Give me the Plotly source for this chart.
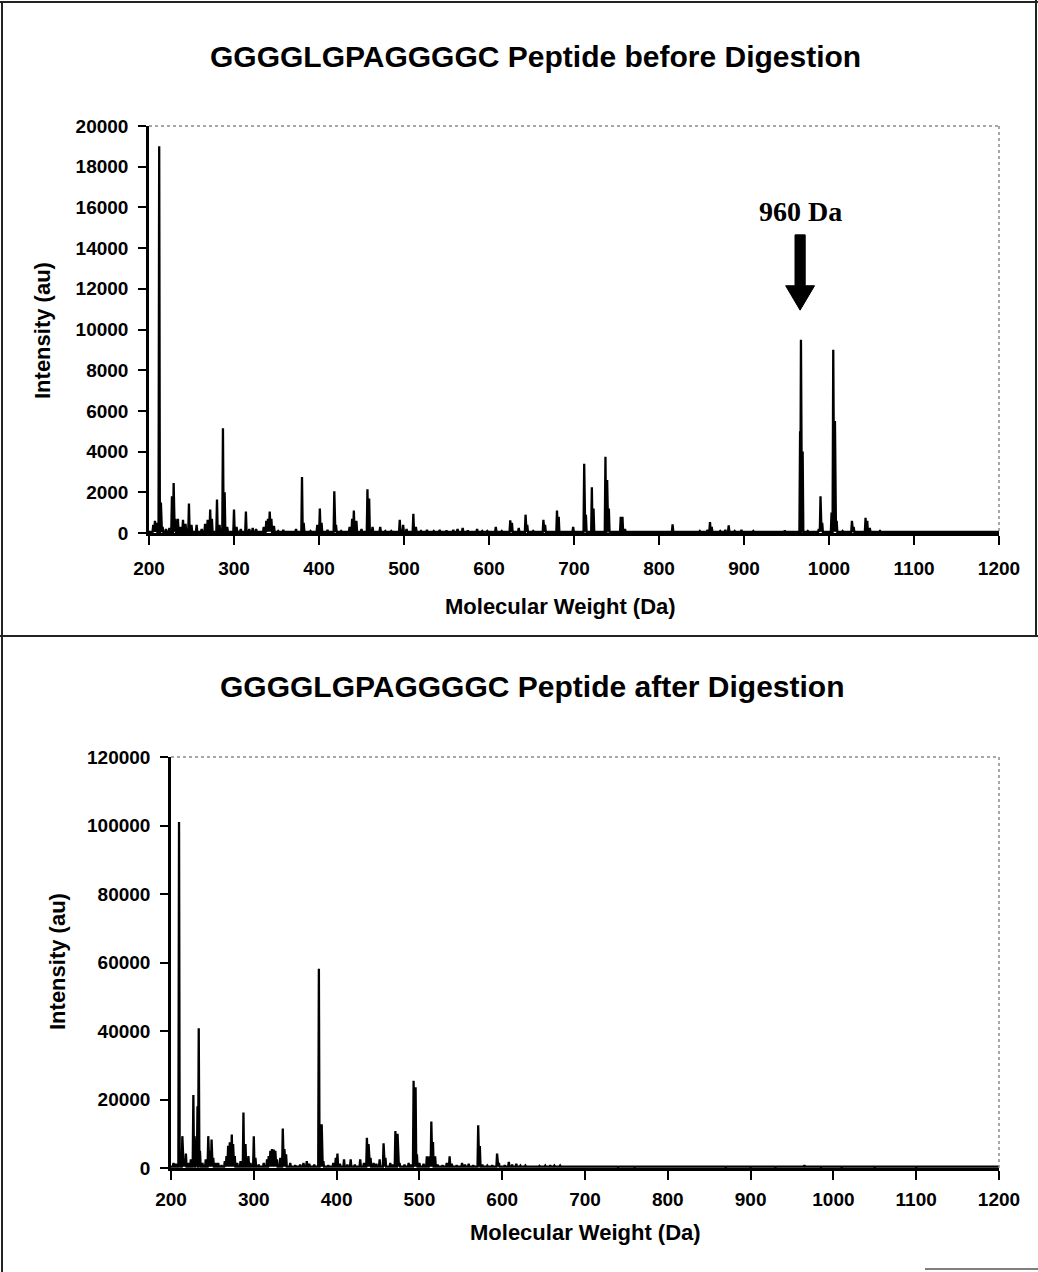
import plotly.graph_objects as go

W, H = 1038, 1272

# ---- spectrum before digestion: peak centres (Da) and intensities (au) ----
before_mz = [205, 207, 209, 212, 214, 216, 220, 224, 227, 229, 231, 234, 237, 240, 243,
             247, 250, 256, 262, 266, 269, 272, 274, 280, 283, 287, 289, 292, 300, 303,
             308, 314, 318, 322, 326, 335, 338, 340, 342, 344, 347, 352, 358, 365, 373,
             380, 382, 390, 398, 401, 403, 410, 418, 420, 426, 436, 439, 441, 444, 450,
             457, 459, 463, 472, 478, 485, 495, 499, 503, 511, 514, 520, 527, 535, 542,
             550, 558, 563, 569, 575, 586, 592, 598, 608, 615, 625, 627, 635, 643, 645,
             652, 664, 666, 680, 682, 699, 712, 714, 721, 723, 737, 739, 741, 755, 757,
             760, 775, 790, 816, 830, 848, 857, 860, 862, 872, 878, 882, 889, 897, 911,
             925, 940, 948, 966, 967, 969, 975, 988, 990, 992, 1003, 1005, 1007, 1009, 1016,
             1027, 1029, 1043, 1045, 1048, 1060, 1075, 1100]
before_int = [400, 600, 500, 19000, 1500, 300, 200, 250, 1800, 2450, 700, 700, 300, 650, 450,
              1450, 400, 400, 200, 450, 650, 1150, 700, 1650, 400, 5150, 2000, 300, 1150, 300,
              200, 1050, 200, 250, 200, 300, 600, 700, 1050, 700, 350, 100, 150, 80, 200,
              2750, 500, 100, 400, 1200, 500, 150, 2050, 400, 100, 300, 700, 1100, 600, 200,
              2150, 1700, 300, 300, 100, 100, 650, 400, 200, 950, 300, 100, 150, 100, 150,
              120, 150, 200, 250, 120, 200, 100, 100, 300, 100, 620, 500, 250, 900, 400,
              100, 650, 400, 1100, 800, 300, 3400, 900, 2250, 1200, 3750, 2600, 1200, 800, 800,
              200, 80, 80, 430, 80, 100, 150, 540, 300, 100, 150, 380, 100, 150, 100,
              80, 80, 120, 5000, 9500, 4000, 100, 200, 1800, 500, 1000, 9000, 5500, 600, 100,
              600, 300, 750, 600, 250, 100, 50, 50]
before_base = 60

# ---- spectrum after digestion ----
after_mz = [203, 206, 209.7, 211, 213.7, 216, 218, 221, 224, 227, 228.6, 230, 232, 233.5, 235,
            238, 242, 245, 247, 249, 251, 254, 257, 261, 265, 267, 269, 271, 273.4, 275,
            277, 280, 284, 287.5, 290, 293.5, 296, 300, 302, 306, 312, 316, 318, 320, 322,
            324, 326, 328, 332, 335, 337, 339, 344, 350, 356, 360, 364, 367, 373, 378.6,
            380, 382, 384, 390, 396, 399, 401, 404, 409, 413, 417, 422, 428.5, 433, 436.6,
            438.6, 441, 444.7, 448, 452, 456.7, 459, 464.8, 468, 471, 473.6, 476, 482, 487, 490,
            493, 495.4, 497, 500, 505, 509, 512, 514.4, 516.4, 519, 522, 528, 533, 536.5, 539,
            545, 551.5, 555, 559.5, 565, 571, 573, 576, 582, 588, 593.8, 596, 603, 608, 612,
            617, 622, 628, 635, 645, 652, 658, 663, 670, 677, 684.5, 695, 705, 714, 725,
            740, 760, 780, 810, 840, 870, 900, 930, 965, 985, 1010, 1050, 1100]
after_int = [1500, 1200, 101000, 3000, 9300, 2000, 4200, 1500, 2500, 21300, 9300, 6000, 18000, 40800, 5000,
             1500, 2500, 9300, 5000, 8300, 3000, 1500, 1500, 800, 2000, 3500, 6500, 7500, 9800, 7000,
             3500, 1500, 2000, 16200, 7000, 3500, 1500, 9300, 3000, 1000, 1500, 2500, 3500, 5000, 5500,
             5400, 5000, 2500, 3000, 11500, 5500, 4000, 1500, 800, 1000, 1500, 2000, 1200, 1000, 58200,
             10000, 12800, 2000, 800, 1500, 3000, 4200, 1200, 2500, 1000, 2500, 1000, 2500, 1500, 8800,
             7000, 3000, 1500, 1200, 2500, 7200, 3000, 1500, 1000, 10800, 10000, 1500, 1000, 1500, 1000,
             25500, 23600, 4000, 1500, 1200, 3400, 3400, 13600, 7600, 3400, 1000, 800, 1500, 3400, 1200,
             800, 1500, 1000, 1200, 800, 12500, 6400, 1000, 700, 800, 4200, 1500, 800, 1800, 1000,
             1200, 700, 700, 500, 600, 700, 800, 700, 700, 500, 500, 400, 300, 400, 300,
             250, 200, 250, 200, 200, 150, 200, 150, 800, 150, 100, 100, 80]
after_base = 400

x_ticks = list(range(200, 1201, 100))
before_y_ticks = list(range(0, 20001, 2000))
after_y_ticks = list(range(0, 120001, 20000))

annot_label = "960 Da"

SANS = "Arial, Liberation Sans, sans-serif"
SERIF = "Times New Roman, Liberation Serif, serif"


def stick_spectrum(mz, inten, base, half=0.8):
    """Turn a peak list into a continuous stick-spectrum outline."""
    xs, ys = [x_ticks[0]], [base]
    for m, h in sorted(zip(mz, inten)):
        xs += [m - half, m, m + half]
        ys += [base, h, base]
    xs.append(x_ticks[-1])
    ys.append(base)
    return xs, ys


bx, by = stick_spectrum(before_mz, before_int, before_base)
ax, ay = stick_spectrum(after_mz, after_int, after_base)

fig = go.Figure()
fig.add_trace(go.Scatter(x=bx, y=by, mode="lines", xaxis="x", yaxis="y",
                         line=dict(color="black", width=2.3), hoverinfo="skip"))
fig.add_trace(go.Scatter(x=ax, y=ay, mode="lines", xaxis="x2", yaxis="y2",
                         line=dict(color="black", width=2.3), hoverinfo="skip"))


# pixel -> paper helpers (margins are zero, so paper == whole figure)
def px(x):
    return x / W


def py(y):
    return 1 - y / H


tickfont = dict(family=SANS, size=19, color="black", weight="bold")
x_common = dict(range=[200, 1200], tickvals=x_ticks, showline=True, linecolor="black",
                linewidth=2.5, ticks="outside", ticklen=9, tickwidth=2, tickcolor="black",
                showgrid=False, zeroline=False, tickfont=tickfont,
                tickformat="d", automargin=False)
y_common = dict(showline=True, linecolor="black", linewidth=2.5, ticks="outside", ticklen=8,
                tickwidth=2, tickcolor="black", showgrid=False, zeroline=False,
                tickfont=tickfont, ticklabelstandoff=6, tickformat="d", automargin=False)

top_plot = (149, 999, 126, 533)      # left, right, top, bottom in px
bot_plot = (171, 999, 757, 1168)

fig.update_layout(
    width=W, height=H, autosize=False,
    margin=dict(l=0, r=0, t=0, b=0, pad=0),
    paper_bgcolor="white", plot_bgcolor="white", showlegend=False,
    xaxis=dict(domain=[px(top_plot[0]), px(top_plot[1])], anchor="y",
               ticklabelstandoff=7, **x_common),
    yaxis=dict(domain=[py(top_plot[3]), py(top_plot[2])], anchor="x",
               range=[0, 20000], tickvals=before_y_ticks, **y_common),
    xaxis2=dict(domain=[px(bot_plot[0]), px(bot_plot[1])], anchor="y2",
                ticklabelstandoff=3, **x_common),
    yaxis2=dict(domain=[py(bot_plot[3]), py(bot_plot[2])], anchor="x2",
                range=[0, 120000], tickvals=after_y_ticks, **y_common),
)

shapes = []
# dotted top/right edges of each plot area
for l, r, t, b in (top_plot, bot_plot):
    shapes.append(dict(type="line", xref="paper", yref="paper", x0=px(l), x1=px(r),
                       y0=py(t), y1=py(t), line=dict(color="#8a8a8a", width=1.5, dash="dot")))
    shapes.append(dict(type="line", xref="paper", yref="paper", x0=px(r), x1=px(r),
                       y0=py(t), y1=py(b), line=dict(color="#8a8a8a", width=1.5, dash="dot")))

# outer chart frames
frame = dict(color="#222222", width=2)
shapes += [
    dict(type="line", xref="paper", yref="paper", x0=px(2), x1=px(2), y0=py(1), y1=py(1272), line=frame),
    dict(type="line", xref="paper", yref="paper", x0=px(0), x1=px(1038), y0=py(2), y1=py(2), line=frame),
    dict(type="line", xref="paper", yref="paper", x0=px(1036), x1=px(1036), y0=py(0), y1=py(636), line=frame),
    dict(type="line", xref="paper", yref="paper", x0=px(0), x1=px(1038), y0=py(636), y1=py(636), line=frame),
    dict(type="line", xref="paper", yref="paper", x0=px(925), x1=px(1038), y0=py(1269), y1=py(1269),
         line=dict(color="#555555", width=1.5)),
]

# block arrow pointing at the intact-peptide peak
window = [(m, h) for m, h in zip(before_mz, before_int) if 940 <= m <= 1000]
peak_mz, peak_h = max(window, key=lambda p: p[1])
tip = peak_h + 1450
head_len, shaft_len = 1200, 2500
head_w, shaft_w = 17, 6
x0 = peak_mz - 1
shapes.append(dict(
    type="path", xref="x", yref="y", fillcolor="black", line=dict(color="black", width=1),
    path=(f"M {x0 - shaft_w} {tip + head_len + shaft_len} L {x0 + shaft_w} {tip + head_len + shaft_len} "
          f"L {x0 + shaft_w} {tip + head_len} L {x0 + head_w} {tip + head_len} L {x0} {tip} "
          f"L {x0 - head_w} {tip + head_len} L {x0 - shaft_w} {tip + head_len} Z"),
))
fig.update_layout(shapes=shapes)

annotations = [
    dict(text="GGGGLGPAGGGGC Peptide before Digestion", x=px(535), y=py(57),
         font=dict(family=SANS, size=30, color="black", weight="bold")),
    dict(text="GGGGLGPAGGGGC Peptide after Digestion", x=px(532), y=py(686),
         font=dict(family=SANS, size=30, color="black", weight="bold")),
    dict(text="Molecular Weight (Da)", x=px(560), y=py(607),
         font=dict(family=SANS, size=22, color="black", weight="bold")),
    dict(text="Molecular Weight (Da)", x=px(585), y=py(1232),
         font=dict(family=SANS, size=22, color="black", weight="bold")),
    dict(text="Intensity (au)", x=px(42), y=py(331), textangle=-90,
         font=dict(family=SANS, size=22, color="black", weight="bold")),
    dict(text="Intensity (au)", x=px(57), y=py(962), textangle=-90,
         font=dict(family=SANS, size=22, color="black", weight="bold")),
    dict(text=annot_label, x=x0, y=tip + head_len + shaft_len + 1150, xref="x", yref="y",
         font=dict(family=SERIF, size=28, color="black", weight="bold")),
]
for a in annotations:
    a.setdefault("xref", "paper")
    a.setdefault("yref", "paper")
    a.update(showarrow=False, xanchor="center", yanchor="middle")
fig.update_layout(annotations=annotations)

fig.write_html("out.html")
